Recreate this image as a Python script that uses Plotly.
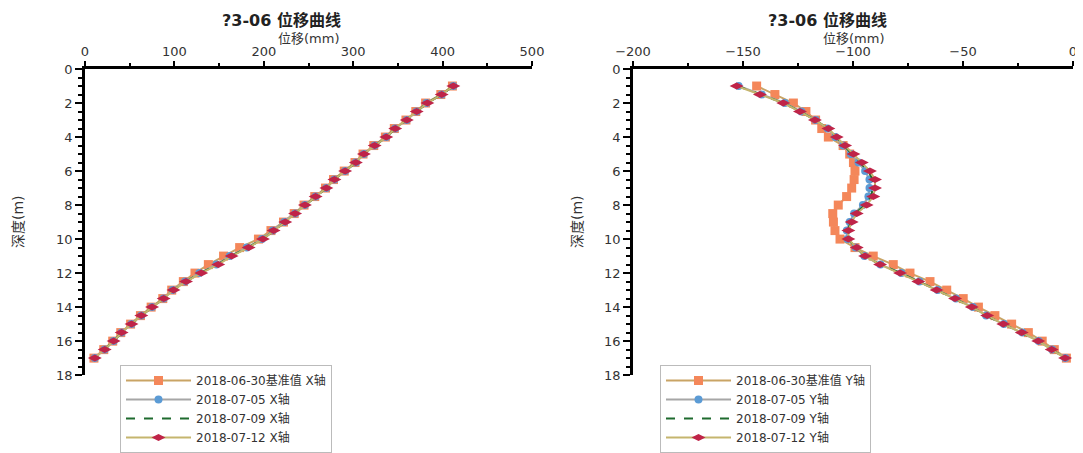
import plotly.graph_objects as go

depth = [1, 1.5, 2, 2.5, 3, 3.5, 4, 4.5, 5, 5.5, 6, 6.5, 7, 7.5, 8, 8.5, 9, 9.5,
         10, 10.5, 11, 11.5, 12, 12.5, 13, 13.5, 14, 14.5, 15, 15.5, 16, 16.5, 17]

# X-axis displacement (mm)
x_0630 = [411, 398, 381, 370, 359, 346, 336, 323, 311, 302, 290, 278, 269, 257, 245, 234, 222,
          208, 194, 173, 155, 138, 123, 110, 97, 87, 74, 62, 51, 40, 31, 21, 10]
x_0705 = [412, 399, 382, 371, 360, 347, 337, 324, 312, 303, 291, 279, 270, 258, 246, 235, 223,
          210, 198, 181, 162, 147, 128, 112, 98, 88, 75, 63, 52, 41, 32, 22, 11]
x_0709 = [412, 399, 383, 371, 360, 347, 337, 324, 312, 303, 291, 279, 270, 258, 246, 235, 224,
          211, 199, 182, 163, 148, 129, 113, 99, 88, 75, 63, 52, 41, 32, 22, 11]
x_0712 = [412, 399, 383, 371, 360, 347, 337, 324, 312, 303, 291, 279, 270, 258, 246, 235, 224,
          211, 199, 183, 164, 149, 130, 113, 99, 88, 75, 63, 52, 41, 32, 22, 11]

# Y-axis displacement (mm)
y_0630 = [-143.8, -135.5, -127.1, -121.4, -117.0, -114.2, -111.2, -104.5, -101.5, -99.8, -99.1,
          -99.5, -100.6, -102.9, -106.7, -109.2, -108.9, -108.2, -105.9, -99.1, -90.8, -81.7,
          -74.1, -65.0, -57.4, -49.9, -43.0, -35.5, -27.9, -20.3, -14.0, -8.5, -3.0]
y_0705 = [-152.0, -141.5, -131.0, -123.5, -117.0, -111.5, -108.0, -104.5, -101.0, -97.5, -94.5,
          -92.5, -92.5, -93.0, -95.5, -99.5, -101.5, -102.8, -102.5, -98.8, -94.8, -87.5,
          -78.0, -69.8, -61.5, -53.2, -45.5, -39.5, -31.4, -23.0, -15.6, -9.5, -3.5]
y_0709 = [-152.5, -142.0, -131.5, -124.0, -117.2, -111.3, -107.6, -104.0, -100.3, -96.6, -93.2,
          -91.0, -91.0, -91.8, -94.6, -98.9, -101.0, -102.4, -102.3, -98.5, -94.6, -87.6,
          -78.3, -70.0, -61.8, -53.4, -45.8, -39.4, -31.5, -23.1, -15.7, -9.6, -3.5]
y_0712 = [-152.9, -142.3, -131.7, -124.1, -117.3, -111.2, -107.4, -103.6, -99.8, -96.0, -92.3,
          -90.0, -90.0, -90.8, -93.8, -98.3, -100.6, -102.1, -102.1, -98.3, -94.5, -87.7,
          -78.6, -70.3, -62.0, -53.6, -46.0, -39.0, -31.7, -23.3, -15.8, -9.7, -3.6]

dates = ["2018-06-30基准值", "2018-07-05", "2018-07-09", "2018-07-12"]
title_text = "?3-06 位移曲线"
x_title = "位移(mm)"
y_title = "深度(m)"

styles = [
    dict(line=dict(color="#c9a465", width=2), marker=dict(symbol="square", size=9, color="#f4875a"), mode="lines+markers"),
    dict(line=dict(color="#a6a6a6", width=2), marker=dict(symbol="circle", size=8, color="#5b9bd5"), mode="lines+markers"),
    dict(line=dict(color="#1e6b2e", width=2, dash="dash"), mode="lines"),
    dict(line=dict(color="#c5b56e", width=2), marker=dict(symbol="diamond-wide", size=10, color="#bf2448"), mode="lines+markers"),
]

fig = go.Figure()
for i, vals in enumerate([x_0630, x_0705, x_0709, x_0712]):
    fig.add_trace(go.Scatter(x=vals, y=depth, name=dates[i] + " X轴", xaxis="x", yaxis="y",
                             legend="legend", cliponaxis=False, **styles[i]))
for i, vals in enumerate([y_0630, y_0705, y_0709, y_0712]):
    fig.add_trace(go.Scatter(x=vals, y=depth, name=dates[i] + " Y轴", xaxis="x2", yaxis="y2",
                             legend="legend2", cliponaxis=False, **styles[i]))

# the html body has an 8px margin: positions below are given in window pixels
OFF = 8
W, H = 1083 - OFF, 453 - OFF

def px_x(p):
    return (p - OFF) / W

def px_y(p):
    return 1 - (p - OFF) / H

font_main = "DejaVu Sans, Noto Sans CJK SC, sans-serif"
txt = "#333333"
dl = [px_x(85), px_x(532)]
dr = [px_x(633), px_x(1073)]
dy = [px_y(381), px_y(70)]

def xax(domain, rng, dtick, anchor):
    return dict(domain=domain, range=rng, side="top", anchor=anchor, dtick=dtick, automargin=False,
                showline=True, linecolor="black", linewidth=2.5, ticks="outside",
                ticklen=5, tickwidth=2, tickcolor="black", showgrid=False, zeroline=False,
                ticklabeloverflow="allow",
                minor=dict(dtick=dtick / 2, ticks="outside", ticklen=3, tickwidth=2, tickcolor="black", showgrid=False),
                tickfont=dict(size=13, color=txt, family=font_main))

def yax(domain, anchor):
    return dict(domain=domain, range=[18, 0], anchor=anchor, dtick=2, automargin=False,
                showline=True, linecolor="black", linewidth=2.5, ticks="outside",
                ticklen=7, tickwidth=2, tickcolor="black", showgrid=False, zeroline=False,
                ticklabeloverflow="allow",
                minor=dict(dtick=0.5, ticks="outside", ticklen=4, tickwidth=2, tickcolor="black", showgrid=False),
                tickfont=dict(size=13, color=txt, family=font_main))

def legend_box(x0):
    return dict(x=px_x(x0), y=px_y(371), xanchor="left", yanchor="top", bgcolor="rgba(255,255,255,0.9)",
                bordercolor="#bbbbbb", borderwidth=1, itemwidth=65, tracegroupgap=0,
                font=dict(size=12, color=txt, family=font_main))

ann = []
for d, tcx in [(dl, 281), (dr, 827)]:
    ann.append(dict(text="<b>" + title_text + "</b>", x=px_x(tcx), y=px_y(21), xref="paper", yref="paper",
                    xanchor="center", yanchor="middle",
                    showarrow=False, font=dict(size=16, color="#222222", family=font_main)))
    ann.append(dict(text=x_title, x=(d[0] + d[1]) / 2, y=px_y(39), xref="paper", yref="paper",
                    xanchor="center", yanchor="middle",
                    showarrow=False, font=dict(size=13, color=txt, family=font_main)))
for yx in [18, 577]:
    ann.append(dict(text=y_title, x=px_x(yx), y=(dy[0] + dy[1]) / 2, xref="paper", yref="paper",
                    xanchor="center", yanchor="middle",
                    textangle=-90, showarrow=False, font=dict(size=14, color=txt, family=font_main)))

fig.update_layout(
    width=W, height=H, margin=dict(l=0, r=0, t=0, b=0),
    paper_bgcolor="white", plot_bgcolor="white",
    xaxis=xax(dl, [0, 500], 100, "y"),
    yaxis=yax(dy, "x"),
    xaxis2=xax(dr, [-200, 0], 50, "y2"),
    yaxis2=yax(dy, "x2"),
    legend=legend_box(120),
    legend2=legend_box(660),
    showlegend=True,
    annotations=ann,
)

fig.write_html("out.html")
